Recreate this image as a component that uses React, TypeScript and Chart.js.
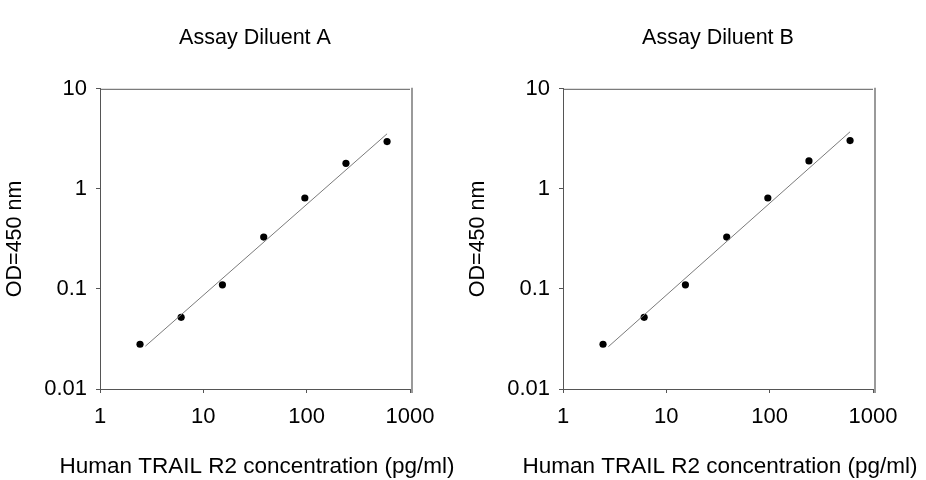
import React, { useEffect, useRef } from 'react';
import { Chart, registerables } from 'chart.js';

Chart.register(...registerables);

// concentrations (pg/ml), 2.5-fold dilution series
const concentration = [2.44, 6.1, 15.3, 38.4, 96, 240, 600];
const odDiluentA = [0.028, 0.052, 0.11, 0.33, 0.81, 1.8, 2.97];
const odDiluentB = [0.028, 0.052, 0.11, 0.33, 0.81, 1.9, 3.04];

// fitted line end points
const fitX = [2.75, 600];
const fitA = [0.0268, 3.55];
const fitB = [0.0265, 3.72];

const xTicks = [1, 10, 100, 1000];
const yTicks = [0.01, 0.1, 1, 10];

const X_TITLE = 'Human TRAIL R2 concentration (pg/ml)';

const FONT = "'Liberation Sans', Arial, sans-serif";
const W = 463;
const H = 480;

// top/right border of the plot box, plus the x axis title (drawn here so
// Chart.js doesn't squeeze it into the plot width)
const framePlugin = {
  id: 'frame',
  afterDraw(chart: any) {
    const { ctx, chartArea } = chart;
    ctx.save();
    ctx.strokeStyle = '#5a5a5a';
    ctx.lineWidth = 1;
    ctx.beginPath();
    ctx.moveTo(chartArea.left, chartArea.top + 0.5);
    ctx.lineTo(chartArea.right, chartArea.top + 0.5);
    ctx.stroke();
    ctx.strokeStyle = '#9a9a9a';
    ctx.lineWidth = 2;
    ctx.beginPath();
    ctx.moveTo(chartArea.right + 2, chartArea.top - 1);
    ctx.lineTo(chartArea.right + 2, chartArea.bottom + 4);
    ctx.stroke();

    ctx.fillStyle = '#000';
    ctx.font = `22.5px ${FONT}`;
    ctx.textAlign = 'center';
    ctx.textBaseline = 'alphabetic';
    ctx.fillText(X_TITLE, (chartArea.left + chartArea.right) / 2 + 2, 473);
    ctx.restore();
  },
};

const Panel = ({ title, od, fit }: { title: string; od: number[]; fit: number[] }) => {
  const canvasRef = useRef<HTMLCanvasElement | null>(null);

  useEffect(() => {
    const canvas = canvasRef.current;
    if (!canvas) return;

    const chart = new Chart(canvas, {
      type: 'scatter',
      data: {
        datasets: [
          {
            label: 'fit',
            data: fitX.map((x, i) => ({ x, y: fit[i] })),
            showLine: true,
            borderColor: '#7a7a7a',
            borderWidth: 1,
            pointRadius: 0,
          },
          {
            label: 'OD',
            data: concentration.map((x, i) => ({ x, y: od[i] })),
            backgroundColor: '#000',
            borderColor: '#000',
            pointRadius: 3.6,
            pointBorderWidth: 0,
          },
        ],
      },
      options: {
        responsive: false,
        animation: false,
        layout: { padding: { left: 0, right: 53, top: 0, bottom: 0 } },
        plugins: {
          legend: { display: false },
          tooltip: { enabled: false },
          title: {
            display: true,
            text: title,
            fullSize: false,
            color: '#000',
            font: { family: FONT, size: 21.5, weight: 'normal' },
            padding: { top: 25, bottom: 38 },
          },
        },
        scales: {
          x: {
            type: 'logarithmic',
            min: 1,
            max: 1000,
            afterBuildTicks: (scale: any) => {
              scale.ticks = xTicks.map((v) => ({ value: v }));
            },
            afterFit: (scale: any) => {
              scale.height = 91;
            },
            ticks: {
              color: '#000',
              font: { family: FONT, size: 22 },
              padding: 10.5,
              maxRotation: 0,
              autoSkip: false,
              callback: (v: any) => String(v),
            },
            grid: { display: true, drawOnChartArea: false, drawTicks: true, tickLength: 4, color: '#555' },
            border: { display: true, color: '#555', width: 1 },
          },
          y: {
            type: 'logarithmic',
            min: 0.01,
            max: 10,
            afterBuildTicks: (scale: any) => {
              scale.ticks = yTicks.map((v) => ({ value: v }));
            },
            afterFit: (scale: any) => {
              scale.width = 100;
            },
            ticks: {
              color: '#000',
              font: { family: FONT, size: 22 },
              padding: 9,
              autoSkip: false,
              callback: (v: any) => String(v),
            },
            grid: { display: true, drawOnChartArea: false, drawTicks: true, tickLength: 4, color: '#555' },
            border: { display: true, color: '#555', width: 1 },
            title: {
              display: true,
              text: 'OD=450 nm',
              color: '#000',
              font: { family: FONT, size: 21.5 },
              padding: { top: 2, bottom: 0 },
            },
          },
        },
      },
      plugins: [framePlugin],
    });

    return () => {
      chart.destroy();
    };
  }, [title, od, fit]);

  return <canvas ref={canvasRef} width={W} height={H} style={{ display: 'block' }} />;
};

const App = () => {
  return (
    <div style={{ position: 'absolute', left: 0, top: 0, width: 926, height: 480, display: 'flex', background: '#fff' }}>
      <Panel title="Assay Diluent A" od={odDiluentA} fit={fitA} />
      <Panel title="Assay Diluent B" od={odDiluentB} fit={fitB} />
    </div>
  );
};

export default App;
